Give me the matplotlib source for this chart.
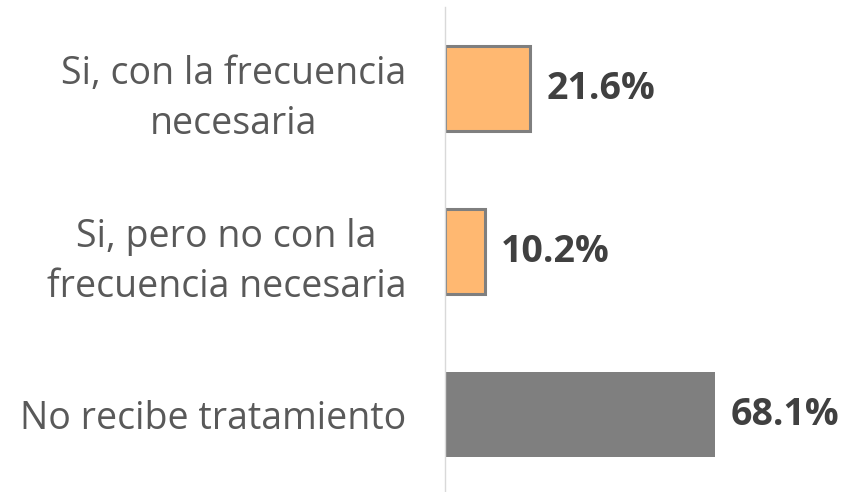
import matplotlib.pyplot as plt

# data
categories = ["Si, con la frecuencia\nnecesaria",
              "Si, pero no con la\nfrecuencia necesaria",
              "No recibe tratamiento"]
values = [21.6, 10.2, 68.1]
bar_colors = ["#FFB871", "#FFB871", "#7F7F7F"]
edge_colors = ["#7F7F7F", "#7F7F7F", "#7F7F7F"]
edge_widths = [2.2, 2.2, 0.0]

plt.rcParams["font.family"] = ["Open Sans", "DejaVu Sans"]

fig = plt.figure(figsize=(8.41, 4.92), dpi=100)
ax = fig.add_axes([0.529, -0.008, 0.471, 0.993])

y = list(range(len(values)))
ax.barh(y, values, height=0.52, color=bar_colors,
        edgecolor=edge_colors, linewidth=edge_widths)
ax.set_ylim(len(values) - 0.5, -0.5)
ax.set_xlim(0, 100)

for yi, v in zip(y, values):
    ax.text(v + 4.0, yi, f"{v:.1f}%", va="center", ha="left",
            fontsize=27, fontweight="bold", color="#404040")

ax.set_yticks(y)
ax.set_yticklabels(categories, fontsize=27, color="#595959")
for lab in ax.get_yticklabels():
    lab.set_multialignment("center")
    lab.set_linespacing(1.4)
ax.tick_params(axis="y", length=0, pad=28)
ax.set_xticks([])

for side in ("top", "right", "bottom"):
    ax.spines[side].set_visible(False)
ax.spines["left"].set_color("#D9D9D9")
ax.spines["left"].set_linewidth(1.0)

fig.savefig("out.png", dpi=100)
